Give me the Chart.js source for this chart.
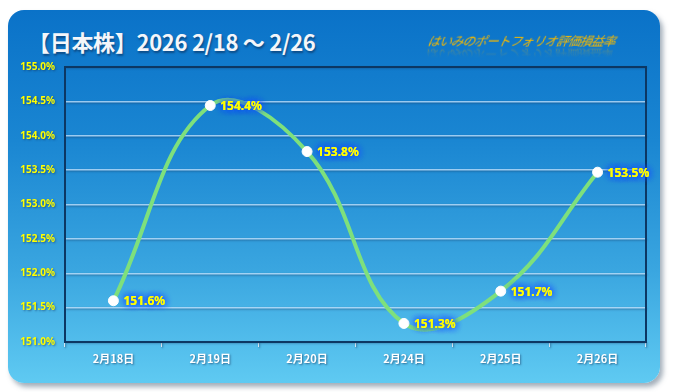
<!DOCTYPE html>
<html>
<head>
<meta charset="utf-8">
<script src="https://cdn.jsdelivr.net/npm/chart.js@4"></script>
<style>
  html, body { margin: 0; padding: 0; background: #fff; }
  #wrap { position: relative; width: 674px; height: 392px; overflow: hidden; }
  #card {
    position: absolute; left: 8px; top: 10px; width: 652px; height: 373px;
    border-radius: 16px;
    background: linear-gradient(to bottom, #0a72c8 0%, #1a86d2 35%, #3aa6e0 70%, #5fcaf2 100%);
    box-shadow: 3px 4px 5px rgba(90, 110, 130, 0.55);
  }
  #title {
    position: absolute; left: 28px; top: 25px;
    font-family: "Noto Sans CJK JP", sans-serif; font-weight: bold; font-size: 22px;
    color: #f4f6fa; letter-spacing: -0.3px;
    text-shadow: 1px 2px 2px rgba(10, 40, 80, 0.55);
  }
  #sub {
    position: absolute; left: 428px; top: 31px;
    font-family: "Noto Sans CJK JP", sans-serif; font-size: 12.5px; font-style: italic;
    color: #f5b900; letter-spacing: -0.8px; transform: skewX(-12deg);
    -webkit-box-reflect: below -5px linear-gradient(transparent 35%, rgba(255,255,255,0.45));
  }
  canvas { position: absolute; left: 0; top: 0; }
</style>
</head>
<body>
<div id="wrap">
  <div id="card"></div>
  <div id="title">【日本株】2026 2/18 〜 2/26</div>
  <div id="sub">はいみのポートフォリオ評価損益率</div>
  <canvas id="lineChart" width="674" height="392"></canvas>
</div>
<script>
// data
var categories = ['2月18日', '2月19日', '2月20日', '2月24日', '2月25日', '2月26日'];
var values = [151.6, 154.44, 153.77, 151.27, 151.74, 153.47];
var yMin = 151.0;
var yMax = 155.0;
var yStep = 0.5;

// draws the frame of the plot and the % labels next to each point
var extras = {
    id: 'extras',
    beforeDraw: function (chart) {
        // shadow under the x tick labels
        chart.ctx.shadowColor = 'rgba(20, 50, 90, 0.6)';
        chart.ctx.shadowBlur = 2;
        chart.ctx.shadowOffsetX = 1;
        chart.ctx.shadowOffsetY = 1;
    },
    beforeDatasetsDraw: function (chart) {
        chart.ctx.shadowColor = 'transparent';
        chart.ctx.shadowBlur = 0;
        chart.ctx.shadowOffsetX = 0;
        chart.ctx.shadowOffsetY = 0;
    },
    afterDraw: function (chart) {
        var c = chart.ctx;
        var a = chart.chartArea;
        c.save();
        c.shadowColor = 'transparent';
        c.strokeStyle = '#0c3763';
        c.lineWidth = 2;
        c.strokeRect(a.left, a.top, a.right - a.left, a.bottom - a.top);
        c.restore();

        var meta = chart.getDatasetMeta(0);
        c.save();
        c.font = 'bold 12px "Noto Sans", sans-serif';
        c.textAlign = 'left';
        c.textBaseline = 'middle';
        meta.data.forEach(function (pt, i) {
            var txt = values[i].toFixed(1) + '%';
            c.shadowColor = '#1a4cff';
            c.shadowBlur = 7;
            c.shadowOffsetX = 0;
            c.shadowOffsetY = 0;
            c.fillStyle = '#ffff00';
            c.fillText(txt, pt.x + 10, pt.y + 1);
            c.fillText(txt, pt.x + 10, pt.y + 1);
            c.fillText(txt, pt.x + 10, pt.y + 1);
        });
        c.restore();
    }
};

var ctx = document.getElementById('lineChart').getContext('2d');
var myChart = new Chart(ctx, {
    type: 'line',
    data: {
        labels: categories,
        datasets: [{
            data: values,
            borderColor: '#7ee07c',
            borderWidth: 4,
            tension: 0.4,
            pointRadius: 5,
            pointBackgroundColor: '#ffffff',
            pointBorderColor: '#ffffff',
            pointBorderWidth: 1,
            fill: false
        }]
    },
    options: {
        responsive: false,
        animation: false,
        layout: {
            padding: { left: 10, right: 28, top: 67, bottom: 20 }
        },
        plugins: {
            legend: { display: false },
            tooltip: { enabled: false }
        },
        scales: {
            x: {
                offset: true,
                afterFit: function (s) { s.height = 30; },
                grid: {
                    offset: true,
                    drawOnChartArea: false,
                    drawTicks: true,
                    tickLength: 5,
                    color: '#d8e6f2'
                },
                border: { display: false },
                ticks: {
                    color: '#ffffff',
                    padding: 5,
                    font: { family: '"Noto Sans CJK JP", sans-serif', size: 11, weight: 'bold' }
                }
            },
            y: {
                min: yMin,
                max: yMax,
                afterFit: function (s) { s.width = 55; },
                grid: {
                    color: 'rgba(200, 230, 255, 0.75)',
                    lineWidth: 1.5,
                    drawTicks: false
                },
                border: { display: false },
                ticks: {
                    stepSize: yStep,
                    color: '#ffff00',
                    padding: 10,
                    font: { family: '"Noto Sans", sans-serif', size: 10, weight: 'bold' },
                    callback: function (v) { return v.toFixed(1) + '%'; }
                }
            }
        }
    },
    plugins: [extras]
});
</script>
</body>
</html>
